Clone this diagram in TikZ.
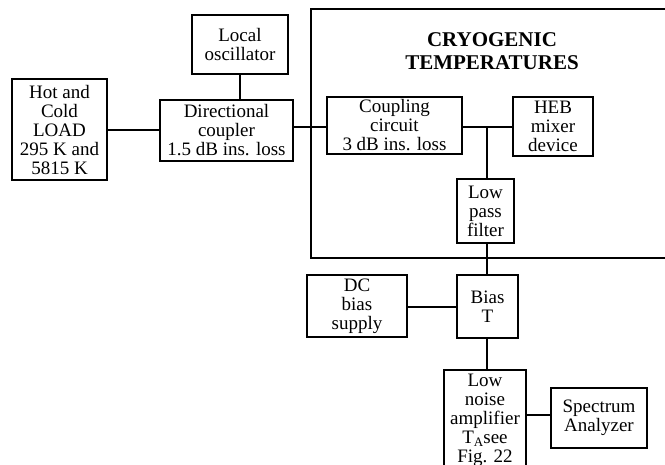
\documentclass[tikz,border=0pt]{standalone}
\usepackage{fontspec}
\setmainfont{Liberation Serif}
\begin{document}
\begin{tikzpicture}[x=1pt,y=-1pt,
  blk/.style={draw, line width=2.4pt, inner sep=0pt, align=center,
    font=\fontsize{19}{19}\selectfont},
  wire/.style={line width=2.4pt},
  frame/.style={line width=1.3pt}]
\useasboundingbox (0,0) rectangle (665,464);
\clip (0,0) rectangle (665,464);
\fill[white] (0,0) rectangle (665,464);
% cryogenic frame
\draw[frame] (670,9) -- (311,9) -- (311,258) -- (670,258);
\node[align=center, font=\bfseries\fontsize{21}{23}\selectfont] (title) at (492,51) {CRYOGENIC\\TEMPERATURES};
% blocks
\node[blk, minimum width=96pt, minimum height=59pt] (lo) at (240,44.5) {Local\\oscillator};
\node[blk, minimum width=95pt, minimum height=101pt] (load) at (59.5,129.5) {Hot and\\Cold\\LOAD\\295 K and\\5815 K};
\node[blk, minimum width=133pt, minimum height=61pt] (dc) at (226.5,130.5) {Directional\\coupler\\1.5 dB ins. loss};
\node[blk, minimum width=135pt, minimum height=57pt] (cc) at (394.5,125.5) {Coupling\\circuit\\3 dB ins. loss};
\node[blk, minimum width=80pt, minimum height=59pt] (heb) at (553,126.5) {HEB\\mixer\\device};
\node[blk, minimum width=57pt, minimum height=64pt] (lpf) at (485.5,211) {Low\\pass\\filter};
\node[blk, minimum width=61pt, minimum height=63pt] (biast) at (487.5,306.5) {Bias\\T};
\node[blk, minimum width=100pt, minimum height=62pt] (dcb) at (357,306) {DC\\bias\\supply};
\node[blk, minimum width=82pt, minimum height=100pt] (lna) at (485,420) {Low\\noise\\amplifier\\T\raisebox{-3pt}{\fontsize{13}{13}\selectfont A}see\\Fig. 22};
\node[blk, minimum width=96pt, minimum height=60pt] (sa) at (599,418) {Spectrum\\Analyzer};
% connectors
\coordinate (j) at (487,127);
\draw[wire] (load.east |- 0,130) -- (dc.west |- 0,130);
\draw[wire] (lo.south) -- (lo.south |- dc.north);
\draw[wire] (dc.east |- 0,127) -- (cc.west |- 0,127);
\draw[wire] (cc.east |- j) -- (heb.west |- j);
\draw[wire] (j) -- (j |- lpf.north);
\draw[wire] (j |- lpf.south) -- (j |- biast.north);
\draw[wire] (dcb.east |- 0,307) -- (biast.west |- 0,307);
\draw[wire] (j |- biast.south) -- (j |- lna.north);
\draw[wire] (lna.east |- 0,415) -- (sa.west |- 0,415);
\end{tikzpicture}
\end{document}
